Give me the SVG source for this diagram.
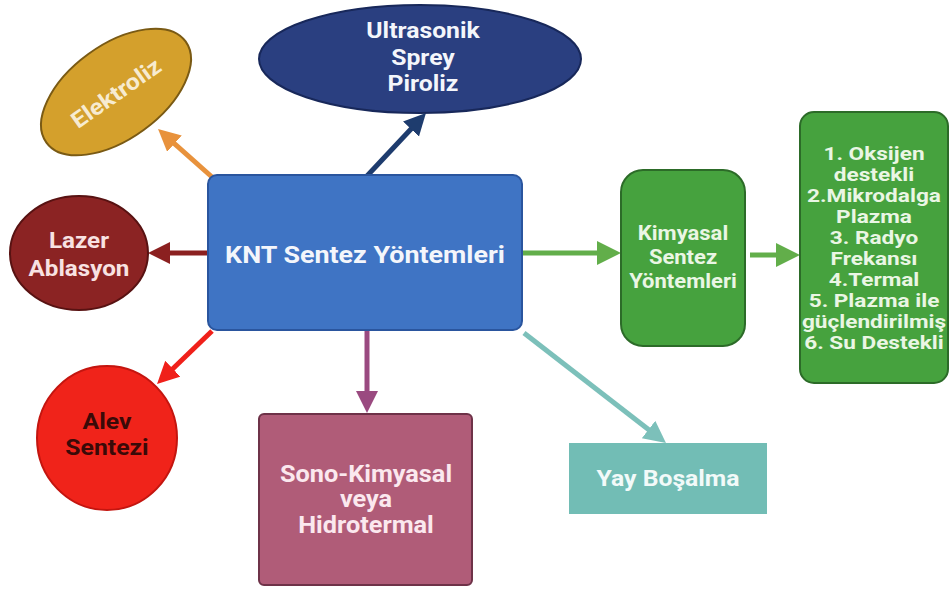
<svg xmlns="http://www.w3.org/2000/svg" width="952" height="590" viewBox="0 0 952 590">
<style>
  text { font-family: Roboto, "Liberation Sans", Arial, sans-serif; font-weight: 700; text-anchor: middle; }
  .lt { fill: #F4F6FB; }
  .ln { fill: none; stroke-width: 5; stroke-linecap: butt; }
</style>
<defs>
  <marker id="mOr" markerUnits="userSpaceOnUse" markerWidth="24" markerHeight="24" refX="8" refY="11" orient="auto"><path d="M0,0 L22,11 L0,22 Z" fill="#E8923C"/></marker>
  <marker id="mNv" markerUnits="userSpaceOnUse" markerWidth="24" markerHeight="24" refX="8" refY="11" orient="auto"><path d="M0,0 L22,11 L0,22 Z" fill="#1E3C6E"/></marker>
  <marker id="mDr" markerUnits="userSpaceOnUse" markerWidth="24" markerHeight="24" refX="8" refY="11" orient="auto"><path d="M0,0 L22,11 L0,22 Z" fill="#8B2020"/></marker>
  <marker id="mRd" markerUnits="userSpaceOnUse" markerWidth="24" markerHeight="24" refX="8" refY="11" orient="auto"><path d="M0,0 L22,11 L0,22 Z" fill="#F0201A"/></marker>
  <marker id="mPu" markerUnits="userSpaceOnUse" markerWidth="24" markerHeight="24" refX="8" refY="11" orient="auto"><path d="M0,0 L22,11 L0,22 Z" fill="#9A4A80"/></marker>
  <marker id="mTl" markerUnits="userSpaceOnUse" markerWidth="24" markerHeight="24" refX="8" refY="11" orient="auto"><path d="M0,0 L22,11 L0,22 Z" fill="#7CC0BA"/></marker>
  <marker id="mGn" markerUnits="userSpaceOnUse" markerWidth="26" markerHeight="26" refX="8" refY="12" orient="auto"><path d="M0,0 L24,12 L0,24 Z" fill="#62AE4A"/></marker>
</defs>
<rect width="952" height="590" fill="#FFFFFF"/>

<g id="connectors">
  <line class="ln" x1="212" y1="177" x2="168.5" y2="138.3" stroke="#E8923C" marker-end="url(#mOr)"/>
  <line class="ln" x1="367" y1="176" x2="416.4" y2="123.2" stroke="#1E3C6E" marker-end="url(#mNv)"/>
  <line class="ln" x1="208" y1="253" x2="162" y2="253" stroke="#8B2020" marker-end="url(#mDr)"/>
  <line class="ln" x1="212" y1="331" x2="167.1" y2="374.3" stroke="#F0201A" marker-end="url(#mRd)"/>
  <line class="ln" x1="367" y1="330" x2="367" y2="399" stroke="#9A4A80" marker-end="url(#mPu)"/>
  <line class="ln" x1="524" y1="333" x2="654.9" y2="434.4" stroke="#7CC0BA" marker-end="url(#mTl)"/>
  <line class="ln" x1="522" y1="253" x2="605" y2="253" stroke="#62AE4A" marker-end="url(#mGn)"/>
  <line class="ln" x1="750" y1="255" x2="784" y2="255" stroke="#62AE4A" marker-end="url(#mGn)"/>
</g>

<g id="knt">
  <rect x="208" y="175" width="314" height="155" rx="9" fill="#3F74C4" stroke="#2A559E" stroke-width="2"/>
  <g transform="translate(365,0) scale(1.12,1)"><text class="lt" x="0" y="263" font-size="24">KNT Sentez Yöntemleri</text></g>
</g>

<g id="ultrasonik">
  <ellipse cx="420" cy="59" rx="161" ry="54" fill="#2A3F80" stroke="#18285A" stroke-width="2"/>
  <g transform="translate(423,0) scale(1.1,1)" class="lt" font-size="22.5">
    <text x="0" y="38">Ultrasonik</text>
    <text x="0" y="65">Sprey</text>
    <text x="0" y="91">Piroliz</text>
  </g>
</g>

<g id="elektroliz">
  <ellipse cx="0" cy="0" rx="86" ry="47" transform="translate(116,92) rotate(-36)" fill="#D4A02C" stroke="#7A5A14" stroke-width="2"/>
  <g transform="translate(116,93) rotate(-35) scale(1.1,1)"><text x="0" y="8" font-size="22.5" fill="#F7EBD0">Elektroliz</text></g>
</g>

<g id="lazer">
  <ellipse cx="79" cy="253" rx="69" ry="57" fill="#8B2323" stroke="#581212" stroke-width="2"/>
  <g transform="translate(79,0) scale(1.1,1)" font-size="22" fill="#F8E2E2">
    <text x="0" y="248">Lazer</text>
    <text x="0" y="276">Ablasyon</text>
  </g>
</g>

<g id="alev">
  <ellipse cx="107" cy="438" rx="70" ry="72" fill="#F0231A" stroke="#C4150F" stroke-width="2"/>
  <g transform="translate(107,0) scale(1.1,1)" font-size="22.5" fill="#3A0A08">
    <text x="0" y="429">Alev</text>
    <text x="0" y="455">Sentezi</text>
  </g>
</g>

<g id="sono">
  <rect x="259" y="414" width="213" height="171" rx="5" fill="#B05C78" stroke="#6E3248" stroke-width="2"/>
  <g transform="translate(366,0) scale(1.1,1)" font-size="23" fill="#FBE8EE">
    <text x="0" y="482">Sono-Kimyasal</text>
    <text x="0" y="507">veya</text>
    <text x="0" y="533">Hidrotermal</text>
  </g>
</g>

<g id="yay">
  <rect x="569" y="443" width="198" height="71" fill="#72BDB5"/>
  <g transform="translate(668,0) scale(1.1,1)"><text x="0" y="486" font-size="22.5" fill="#F2FAF9">Yay Boşalma</text></g>
</g>

<g id="kimyasal">
  <rect x="621" y="170" width="124" height="176" rx="22" fill="#46A23E" stroke="#2C6B28" stroke-width="2"/>
  <g transform="translate(683,0) scale(1.1,1)" font-size="20" fill="#EAF6E4">
    <text x="0" y="240">Kimyasal</text>
    <text x="0" y="264">Sentez</text>
    <text x="0" y="288">Yöntemleri</text>
  </g>
</g>

<g id="yontemler">
  <rect x="800" y="112" width="148" height="271" rx="14" fill="#46A23E" stroke="#2C6B28" stroke-width="2"/>
  <g transform="translate(874,0) scale(1.27,1)" font-size="17.8" fill="#EAF6E4">
    <text x="0" y="160">1. Oksijen</text>
    <text x="0" y="181">destekli</text>
    <text x="0" y="202">2.Mikrodalga</text>
    <text x="0" y="223">Plazma</text>
    <text x="0" y="244">3. Radyo</text>
    <text x="0" y="265">Frekansı</text>
    <text x="0" y="286">4.Termal</text>
    <text x="0" y="307">5. Plazma ile</text>
    <text x="0" y="328">güçlendirilmiş</text>
    <text x="0" y="349">6. Su Destekli</text>
  </g>
</g>
</svg>
